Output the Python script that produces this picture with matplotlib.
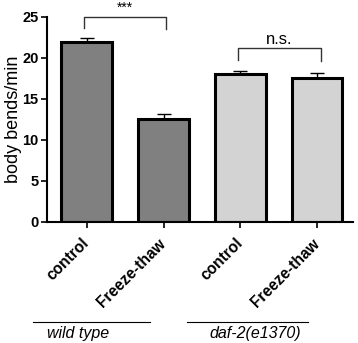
import numpy as np
import matplotlib.pyplot as plt

plt.rcParams['font.family'] = ['Liberation Sans', 'DejaVu Sans']

# datos del grafico
condiciones = ['control', 'Freeze-thaw', 'control', 'Freeze-thaw']
valores = [21.9, 12.5, 18.0, 17.6]
errores = [0.5, 0.7, 0.45, 0.5]
colores = ['#808080', '#808080', '#d3d3d3', '#d3d3d3']
grupos = ['wild type', 'daf-2(e1370)']
signif = ['***', 'n.s.']

fig = plt.figure(figsize=(3.58, 3.43), dpi=100)
ax = fig.add_axes([0.131, 0.353, 0.855, 0.598])

x = np.arange(len(valores))
ax.bar(x, valores, width=0.66, color=colores, edgecolor='black', linewidth=2.2, zorder=2)
ax.errorbar(x, valores, yerr=[np.zeros(4), errores], fmt='none', ecolor='black',
            elinewidth=1, capsize=5, capthick=1, zorder=1)

ax.set_xlim(-0.52, 3.47)
ax.set_ylim(0, 25)
ax.set_yticks([0, 5, 10, 15, 20, 25])
ax.set_xticks(x)
ax.set_xticklabels(condiciones, rotation=45, ha='right', va='center',
                   rotation_mode='anchor', fontsize=11.2, fontweight='bold')
for lbl in ax.get_yticklabels():
    lbl.set_fontweight('bold')
    lbl.set_fontsize(10.5)
ax.tick_params(axis='both', width=1.2, length=4)
ax.tick_params(axis='x', pad=9.7)
ax.tick_params(axis='y', pad=2)
ax.spines['top'].set_visible(False)
ax.spines['right'].set_visible(False)
ax.spines['left'].set_linewidth(1.5)
ax.spines['bottom'].set_linewidth(1.5)

# etiqueta eje y puesta a mano para que no se corte
fig.text(0.038, 0.653, 'body bends/min', rotation=90, ha='center', va='center',
         fontsize=13)

# corchetes de significancia
def corchete(x1, x2, y, h1, h2, texto, ty, fs):
    ax.plot([x1, x1, x2, x2], [y - h1, y, y, y - h2], color='#333333', lw=1,
            clip_on=False)
    ax.text((x1 + x2) / 2, ty, texto, ha='center', va='bottom', fontsize=fs,
            clip_on=False)

corchete(-0.03, 1.03, 25, 1.4, 1.5, signif[0], 25.3, 10)
corchete(1.97, 3.05, 21.2, 1.5, 1.6, signif[1], 21.3, 12)

# etiquetas de grupo
lineas = [(-0.7, 0.82), (1.3, 2.88)]
centros_texto = [-0.12, 2.2]
for g, (x1, x2), xc in zip(grupos, lineas, centros_texto):
    y_line = -12.2
    ax.plot([x1, x2], [y_line, y_line], color='black', lw=0.8, clip_on=False)
    ax.text(xc, y_line - 0.5, g, ha='center', va='top',
            fontsize=11.5, style='italic', clip_on=False)

fig.savefig('out.png', dpi=100)
